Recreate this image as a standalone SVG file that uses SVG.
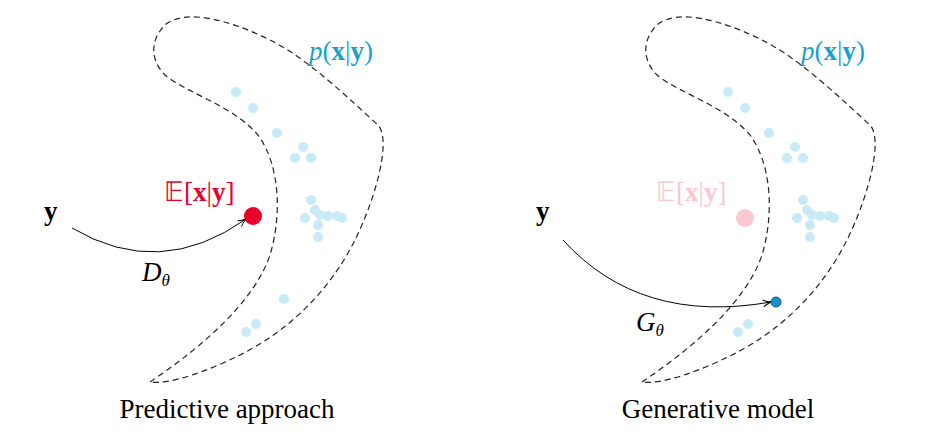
<svg xmlns="http://www.w3.org/2000/svg" width="927" height="437" viewBox="0 0 927 437">
<defs>
<style>
.sh{fill:none;stroke:#222;stroke-width:1.2;stroke-dasharray:6,4}
.d{fill:#c8eaf6}
.t{font-family:"Liberation Serif",serif;font-size:27px}
.cap{font-family:"Liberation Serif",serif;font-size:27px;text-anchor:middle}
.ar{fill:none;stroke:#000;stroke-width:1}
</style>
<marker id="ah" markerWidth="10" markerHeight="8" refX="9" refY="4" orient="auto" markerUnits="userSpaceOnUse"><path d="M1,0.5 Q5,3 9,4 Q5,5 1,7.5" fill="none" stroke="#000" stroke-width="1"/></marker>
<g id="blob"><path d="M150,382 C205,345 255,300 270,255 C282,215 280,165 258,135 C232,105 190,95 165,75 C150,60 150,40 165,25 C185,8 230,20 270,40 C310,60 350,100 378,125 C392,140 375,200 355,240 C330,290 290,330 240,355 C210,370 170,385 150,382 Z"/></g>
</defs>
<g id="left">
<use href="#blob" class="sh"/>
<g class="d"><circle cx="236" cy="92" r="5"/><circle cx="253" cy="108" r="5"/><circle cx="277" cy="133" r="5"/><circle cx="303" cy="147" r="5"/><circle cx="295" cy="158" r="5"/><circle cx="311" cy="158" r="5"/><circle cx="311" cy="200" r="5"/><circle cx="315" cy="210" r="5"/><circle cx="305" cy="218" r="5"/><circle cx="320" cy="215" r="5"/><circle cx="328" cy="216" r="5"/><circle cx="337" cy="216" r="5"/><circle cx="342" cy="218" r="5"/><circle cx="318" cy="225" r="5"/><circle cx="318" cy="237" r="5"/><circle cx="284" cy="299" r="5"/><circle cx="256" cy="324" r="5"/><circle cx="246" cy="332" r="5"/></g>
<text class="t" x="309" y="60" fill="#1a9fd0" font-style="italic">p<tspan font-style="normal">(<tspan font-weight="bold">x</tspan>|<tspan font-weight="bold">y</tspan>)</tspan></text>
<text class="t" x="164" y="201" fill="#e8002a">𝔼[<tspan font-weight="bold">x</tspan>|<tspan font-weight="bold">y</tspan>]</text>
<circle cx="253" cy="216" r="9" fill="#e8002a"/>
<text class="t" x="44" y="220" font-weight="bold">y</text>
<text class="t" x="142" y="281" font-style="italic">D<tspan font-size="17" dy="5">θ</tspan></text>
<text class="cap" x="227" y="418">Predictive approach</text>
</g>
<g id="right">
<use href="#blob" class="sh" transform="translate(492,0)"/>
<g class="d" transform="translate(492,0)"><circle cx="236" cy="92" r="5"/><circle cx="253" cy="108" r="5"/><circle cx="277" cy="133" r="5"/><circle cx="303" cy="147" r="5"/><circle cx="295" cy="158" r="5"/><circle cx="311" cy="158" r="5"/><circle cx="311" cy="200" r="5"/><circle cx="315" cy="210" r="5"/><circle cx="305" cy="218" r="5"/><circle cx="320" cy="215" r="5"/><circle cx="328" cy="216" r="5"/><circle cx="337" cy="216" r="5"/><circle cx="342" cy="218" r="5"/><circle cx="318" cy="225" r="5"/><circle cx="318" cy="237" r="5"/><circle cx="256" cy="324" r="5"/><circle cx="246" cy="332" r="5"/></g>
<text class="t" x="801" y="60" fill="#1a9fd0" font-style="italic">p<tspan font-style="normal">(<tspan font-weight="bold">x</tspan>|<tspan font-weight="bold">y</tspan>)</tspan></text>
<text class="t" x="656" y="201" fill="#fbc8cf">𝔼[<tspan font-weight="bold">x</tspan>|<tspan font-weight="bold">y</tspan>]</text>
<circle cx="745" cy="218" r="9" fill="#fbc8cf"/>
<circle cx="776" cy="302" r="5" fill="#1a8fc8" stroke="#0b5f8a" stroke-width="1"/>
<text class="t" x="536" y="220" font-weight="bold">y</text>
<text class="t" x="636" y="331" font-style="italic">G<tspan font-size="17" dy="5">θ</tspan></text>
<text class="cap" x="718" y="418">Generative model</text>
</g>
<g id="connectors">
<path class="ar" d="M72,228 Q160,280 246,219" marker-end="url(#ah)"/>
<path class="ar" d="M563,240 Q640,325 771,302" marker-end="url(#ah)"/>
</g>
</svg>
